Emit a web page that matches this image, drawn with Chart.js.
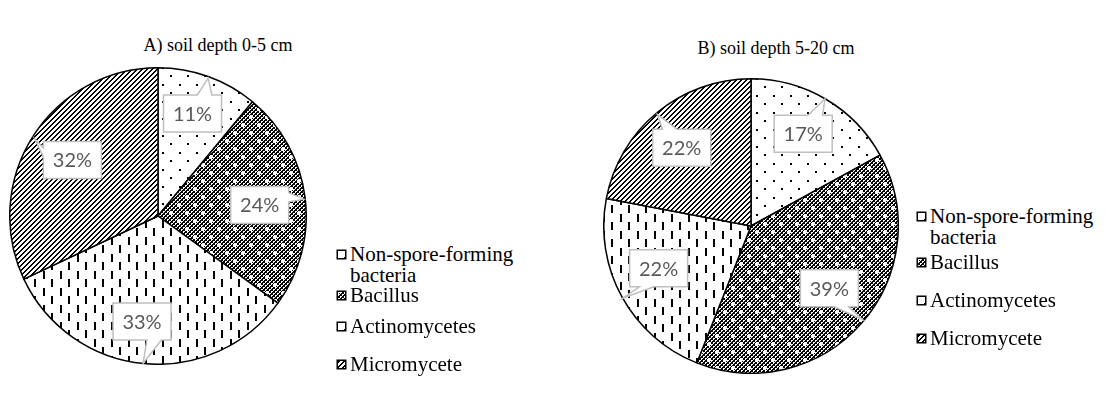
<!DOCTYPE html>
<html>
<head>
<meta charset="utf-8">
<script src="https://cdn.jsdelivr.net/npm/chart.js@4/dist/chart.umd.min.js"></script>
<style>
  html, body { margin: 0; padding: 0; background: #fff; }
  #stage { position: relative; width: 1106px; height: 408px; overflow: hidden; background: #fff; }
  canvas.pie { position: absolute; }
  .title { position: absolute; font-family: "Liberation Serif", "Times New Roman", serif; font-size: 18px; color: #000; white-space: nowrap; transform: translate(-50%, -50%); }
  .legend { position: absolute; width: 190px; }
  .legend .item { position: absolute; left: 0; display: flex; align-items: flex-start; width: 190px; }
  .legend .item canvas { flex: none; margin-top: 5px; margin-right: 3px; }
  .legend .item span { font-family: "Liberation Serif", "Times New Roman", serif; font-size: 21px; line-height: 21px; color: #000; }
</style>
</head>
<body>
<div id="stage">
  <canvas id="pieA" class="pie" width="298" height="298" style="left:9px;top:67px"></canvas>
  <canvas id="pieB" class="pie" width="296" height="296" style="left:603px;top:78px"></canvas>
  <div id="titleA" class="title" style="left:218px;top:45px"></div>
  <div id="titleB" class="title" style="left:776px;top:48px"></div>
  <div id="legendA" class="legend" style="left:336px;top:0px"></div>
  <div id="legendB" class="legend" style="left:916px;top:0px"></div>
</div>
<script>
// Microbial groups and their shares (%) at two soil depths
const categories = ['Non-spore-forming bacteria', 'Bacillus', 'Actinomycetes', 'Micromycete'];
const sharesTopsoil = [11, 24, 33, 32];   // 0-5 cm
const sharesSubsoil = [17, 39, 22, 22];   // 5-20 cm
const panelTitles = ['A) soil depth 0-5 cm', 'B) soil depth 5-20 cm'];

// ---- fill patterns (one per group) ----
function tile(size, paint) {
  const c = document.createElement('canvas');
  c.width = size; c.height = size;
  const g = c.getContext('2d');
  g.fillStyle = '#fff'; g.fillRect(0, 0, size, size);
  g.fillStyle = '#000';
  paint(g, size);
  return c;
}
const tiles = [
  // sparse dots
  tile(17, (g) => { g.fillRect(0, 0, 2, 2); g.fillRect(8, 8, 2, 2); }),
  // dark checker with white specks
  tile(16, (g, s) => {
    for (let y = 0; y < s; y++) for (let x = 0; x < s; x++)
      if (((x >> 1) + (y >> 1)) % 2 === 0 || (x % 2 === 1 && y % 2 === 1)) g.fillRect(x, y, 1, 1);
    g.fillStyle = '#fff';
    [[1, 1], [9, 9]].forEach(([x, y]) => { g.fillRect(x, y - 1, 2, 4); g.fillRect(x - 1, y, 4, 2); });
  }),
  // staggered vertical dashes
  tile(17, (g) => { g.fillRect(0, 0, 2, 8); g.fillRect(8, 8, 2, 8); }),
  // dense upward diagonals
  tile(5, (g, s) => { for (let y = 0; y < s; y++) { g.fillRect(s - 1 - y, y, 1, 1); g.fillRect((s - y) % s, y, 1, 1); } })
];
const helper = document.createElement('canvas').getContext('2d');
const fills = tiles.map(t => helper.createPattern(t, 'repeat'));

// ---- rectangular speech-bubble labels ----
function bubblePath(ctx, l, t, w, h, tx, ty) {
  const r = l + w, b = t + h, cx = l + w / 2, cy = t + h / 2;
  const dx = tx - cx, dy = ty - cy;
  const horiz = Math.abs(dx) / w > Math.abs(dy) / h;
  const xs = dx > 0 ? [l + w * 7 / 12, l + w * 10 / 12] : [l + w * 2 / 12, l + w * 5 / 12];
  const ys = dy > 0 ? [t + h * 7 / 12, t + h * 10 / 12] : [t + h * 2 / 12, t + h * 5 / 12];
  ctx.beginPath();
  ctx.moveTo(l, t);
  if (!horiz && dy < 0) { ctx.lineTo(xs[0], t); ctx.lineTo(tx, ty); ctx.lineTo(xs[1], t); }
  ctx.lineTo(r, t);
  if (horiz && dx > 0) { ctx.lineTo(r, ys[0]); ctx.lineTo(tx, ty); ctx.lineTo(r, ys[1]); }
  ctx.lineTo(r, b);
  if (!horiz && dy > 0) { ctx.lineTo(xs[1], b); ctx.lineTo(tx, ty); ctx.lineTo(xs[0], b); }
  ctx.lineTo(l, b);
  if (horiz && dx < 0) { ctx.lineTo(l, ys[1]); ctx.lineTo(tx, ty); ctx.lineTo(l, ys[0]); }
  ctx.closePath();
}

const bubblePlugin = {
  id: 'bubbles',
  afterDatasetsDraw(chart, args, opts) {
    const ctx = chart.ctx;
    const meta = chart.getDatasetMeta(0);
    const values = chart.data.datasets[0].data;
    ctx.save();
    meta.data.forEach((arc, i) => {
      const p = arc.getProps(['x', 'y', 'outerRadius'], true);
      const polar = (deg, f) => {
        const a = (deg - 90) * Math.PI / 180;
        return [p.x + Math.cos(a) * p.outerRadius * f, p.y + Math.sin(a) * p.outerRadius * f];
      };
      const spot = opts.spots[i];
      const [bx, by] = polar(spot.box[0], spot.box[1]);
      const [tx, ty] = polar(spot.tip[0], spot.tip[1]);
      const w = opts.width, h = opts.height;
      bubblePath(ctx, bx - w / 2, by - h / 2, w, h, tx, ty);
      ctx.fillStyle = '#fff';
      ctx.fill();
      ctx.lineWidth = 1.5;
      ctx.strokeStyle = '#bfbfbf';
      ctx.lineJoin = 'miter';
      ctx.stroke();
      ctx.fillStyle = '#595959';
      ctx.font = '20px Lato, "Open Sans", sans-serif';
      ctx.textAlign = 'center';
      ctx.textBaseline = 'middle';
      ctx.fillText(values[i] + '%', bx, by + 1);
    });
    ctx.restore();
  }
};

function makePie(id, values, spots) {
  return new Chart(document.getElementById(id), {
    type: 'pie',
    data: {
      labels: categories,
      datasets: [{
        data: values,
        backgroundColor: fills,
        borderColor: '#000',
        borderWidth: 1.5,
        borderAlign: 'center'
      }]
    },
    options: {
      responsive: false,
      animation: false,
      events: [],
      layout: { padding: 0 },
      plugins: {
        legend: { display: false },
        tooltip: { enabled: false },
        bubbles: { width: 58, height: 37, spots }
      }
    },
    plugins: [bubblePlugin]
  });
}

// bubble placement: [angle clockwise from 12 o'clock, fraction of radius]
makePie('pieA', sharesTopsoil, [
  { box: [18.6, 0.73], tip: [20, 0.99] },
  { box: [83.8, 0.69], tip: [83.4, 0.99] },
  { box: [188.6, 0.72], tip: [185.8, 1.0] },
  { box: [303.2, 0.69], tip: [302, 0.98] }
]);
makePie('pieB', sharesSubsoil, [
  { box: [29.5, 0.72], tip: [30.2, 1.0] },
  { box: [128.5, 0.68], tip: [130, 0.99] },
  { box: [245.4, 0.69], tip: [240.6, 1.0] },
  { box: [318.5, 0.71], tip: [320, 0.99] }
]);

document.getElementById('titleA').textContent = panelTitles[0];
document.getElementById('titleB').textContent = panelTitles[1];

// ---- legends ----
function buildLegend(id, tops) {
  const host = document.getElementById(id);
  categories.forEach((name, i) => {
    const item = document.createElement('div');
    item.className = 'item';
    item.style.top = tops[i] + 'px';
    const mk = document.createElement('canvas');
    mk.width = 11; mk.height = 11;
    const g = mk.getContext('2d');
    g.fillStyle = '#fff'; g.fillRect(0, 0, 11, 11);
    g.fillStyle = fills[i]; g.fillRect(1, 1, 9, 9);
    g.strokeStyle = '#000'; g.lineWidth = 1.5; g.strokeRect(1.25, 1.25, 8.5, 8.5);
    const label = document.createElement('span');
    label.textContent = name;
    item.appendChild(mk);
    item.appendChild(label);
    host.appendChild(item);
  });
}
buildLegend('legendA', [244, 285, 316, 354]);
buildLegend('legendB', [206, 252, 290, 328]);
</script>
</body>
</html>
